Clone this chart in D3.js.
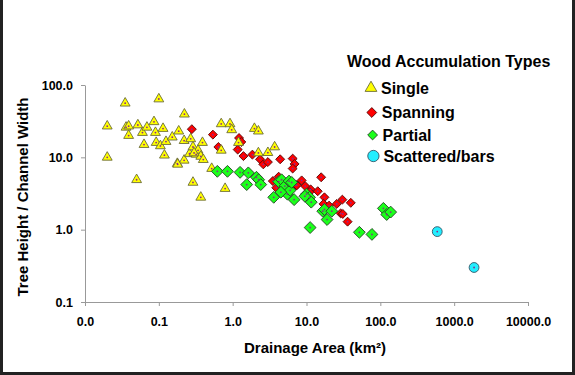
<!DOCTYPE html>
<html lang="en">
<head>
<meta charset="UTF-8">
<title>Wood Accumulation Types</title>
<script src="https://d3js.org/d3.v7.min.js"></script>
<style>
    body { margin: 0; background: #fff; }
    svg { display: block; font-family: Arial, "Liberation Sans", sans-serif; }
    .tick text { font-size: 12.5px; font-weight: bold; fill: #000; }
    .axis path, .axis line { stroke: #999; }
    .title { font-weight: bold; fill: #000; }
</style>
</head>
<body>
<svg width="575" height="375"></svg>
<script>
// data: [drainage area km2, tree height / channel width]
const single = [
    [0.020, 27], [0.020, 10], [0.035, 56], [0.036, 26], [0.039, 27], [0.039, 20],
    [0.050, 4.9], [0.052, 28], [0.060, 22], [0.063, 15], [0.069, 26], [0.086, 31],
    [0.090, 22], [0.092, 16], [0.105, 14.4], [0.100, 64], [0.114, 25], [0.119, 10.7],
    [0.125, 16.5], [0.152, 19], [0.178, 8.2], [0.186, 23], [0.222, 39.5], [0.22, 17],
    [0.22, 9.1], [0.26, 11.2], [0.27, 18], [0.29, 13.9], [0.29, 4.5], [0.32, 11],
    [0.34, 12.5], [0.37, 10.3], [0.37, 2.8], [0.39, 16], [0.40, 9.3], [0.52, 7.0],
    [0.70, 29], [0.70, 12.5], [0.79, 3.7], [0.92, 29], [0.97, 24], [1.2, 16],
    [1.97, 25], [2.23, 23], [2.23, 11.5], [3.0, 11.6], [3.7, 13.9], [0.18, 8.0], [0.30, 11.5]
];
const spanning = [
    [0.28, 24.5], [0.54, 20.6], [0.64, 13.9], [1.17, 12.8], [1.22, 18.5], [1.31, 16.3],
    [1.40, 10.4], [1.85, 10.9], [2.35, 9.4], [2.6, 8.0], [3.0, 8.6], [4.4, 9.4],
    [6.5, 9.6], [6.9, 8.1], [6.5, 7.0], [3.5, 4.7], [4.2, 5.4], [3.9, 3.8], [5.0, 3.4],
    [7.2, 4.1], [8.6, 4.8], [9.6, 4.0], [7.4, 4.1], [11.4, 3.6], [14.2, 3.4], [10.1, 2.9],
    [15.8, 5.3], [17.5, 2.8], [17, 2.27], [20.2, 2.15], [25.7, 2.27], [30.6, 2.6],
    [39.8, 2.35], [29, 1.68], [31, 1.65], [36, 1.29], [11.0, 3.3], [5.5, 3.5]
];
const partial = [
    [0.62, 6.4], [0.85, 6.4], [1.26, 6.2], [1.63, 6.1], [1.55, 4.2], [2.1, 5.3],
    [2.25, 4.9], [2.4, 4.2], [3.6, 2.8], [4.2, 4.6], [4.6, 4.9], [5.1, 4.0], [5.5, 3.1],
    [6.0, 3.5], [5.8, 4.7], [6.8, 2.6], [6.3, 4.5], [10, 3.1], [11, 2.8], [11.6, 2.4],
    [11.2, 1.07], [16.6, 1.8], [17.5, 1.9], [19, 1.38], [22, 1.8], [52, 0.92], [77, 0.86],
    [110, 1.97], [122, 1.62], [138, 1.75], [4.5, 3.3], [9.5, 2.9]
];
const scattered = [[590, 0.94], [1860, 0.30]];

const xTicks = [0.01, 0.1, 1, 10, 100, 1000, 10000];
const yTicks = [0.1, 1, 10, 100];

const svg = d3.select("svg");

const x = d3.scaleLog().domain([0.01, 10000]).range([85, 528]);
const y = d3.scaleLog().domain([0.1, 100]).range([302, 85]);
const fmt = d3.format(".1f");

svg.append("g")
    .attr("class", "axis")
    .attr("transform", "translate(0,302)")
    .call(d3.axisBottom(x).tickValues(xTicks).tickFormat(fmt).tickSizeInner(4).tickSizeOuter(0).tickPadding(11));

svg.append("g")
    .attr("class", "axis")
    .attr("transform", "translate(85,0)")
    .call(d3.axisLeft(y).tickValues(yTicks).tickFormat(fmt).tickSizeInner(4).tickSizeOuter(0).tickPadding(8));

// axis titles
svg.append("text")
    .attr("class", "title")
    .attr("x", 315).attr("y", 348)
    .attr("text-anchor", "middle").attr("dy", "0.35em")
    .style("font-size", "15px")
    .text("Drainage Area (km²)");

svg.append("text")
    .attr("class", "title")
    .attr("transform", "translate(23,197) rotate(-90)")
    .attr("text-anchor", "middle").attr("dy", "0.35em")
    .style("font-size", "15px")
    .text("Tree Height / Channel Width");

// marker styles
const styles = {
    single: { fill: "#ffff00", stroke: "#6b6b3a", shape: d3.symbolTriangle, size: 42, rot: 0 },
    spanning: { fill: "#ff0000", stroke: "#5a0a0a", shape: d3.symbolSquare, size: 40, rot: 45 },
    partial: { fill: "#1aff1a", stroke: "#2a4a2a", shape: d3.symbolSquare, size: 70, rot: 45 },
    scattered: { fill: "#22eeff", stroke: "#335566", shape: d3.symbolCircle, size: 76, rot: 0 }
};

function drawSeries(pts, st) {
    const g = svg.append("g");
    const sym = d3.symbol().type(st.shape).size(st.size);
    g.selectAll("path")
        .data(pts)
        .join("path")
        .attr("d", sym)
        .attr("transform", d => `translate(${x(d[0])},${y(d[1])}) rotate(${st.rot})`)
        .attr("fill", st.fill)
        .attr("stroke", st.stroke)
        .attr("stroke-width", 0.9);
    g.selectAll("circle")
        .data(pts)
        .join("circle")
        .attr("cx", d => x(d[0]))
        .attr("cy", d => y(d[1]))
        .attr("r", 0.9)
        .attr("fill", "#8a2b8a");
}

drawSeries(spanning, styles.spanning);
drawSeries(single, styles.single);
drawSeries(partial, styles.partial);
drawSeries(scattered, styles.scattered);

// legend
const legendItems = [
    { name: "Single", st: styles.single, y: 88, size: 60 },
    { name: "Spanning", st: styles.spanning, y: 112.5, size: 48 },
    { name: "Partial", st: styles.partial, y: 135, size: 48 },
    { name: "Scattered/bars", st: styles.scattered, y: 156, size: 100 }
];

svg.append("text")
    .attr("class", "title")
    .attr("x", 347).attr("y", 61).attr("dy", "0.35em")
    .style("font-size", "16px")
    .text("Wood Accumulation Types");

const leg = svg.append("g")
    .selectAll("g")
    .data(legendItems)
    .join("g")
    .attr("transform", (d, i) => `translate(${371 + i * 0.8},${d.y})`);

leg.append("path")
    .attr("d", d => d3.symbol().type(d.st.shape).size(d.size)())
    .attr("transform", d => `rotate(${d.st.rot})`)
    .attr("fill", d => d.st.fill)
    .attr("stroke", d => d.st.stroke)
    .attr("stroke-width", 0.9);

leg.append("text")
    .attr("class", "title")
    .attr("x", 10).attr("dy", "0.35em")
    .style("font-size", "16px")
    .text(d => d.name);

// frame
svg.append("path")
    .attr("d", "M1.5,0 V373.5 H573.5 V0")
    .attr("fill", "none")
    .attr("stroke", "#222")
    .attr("stroke-width", 3);
</script>
</body>
</html>
